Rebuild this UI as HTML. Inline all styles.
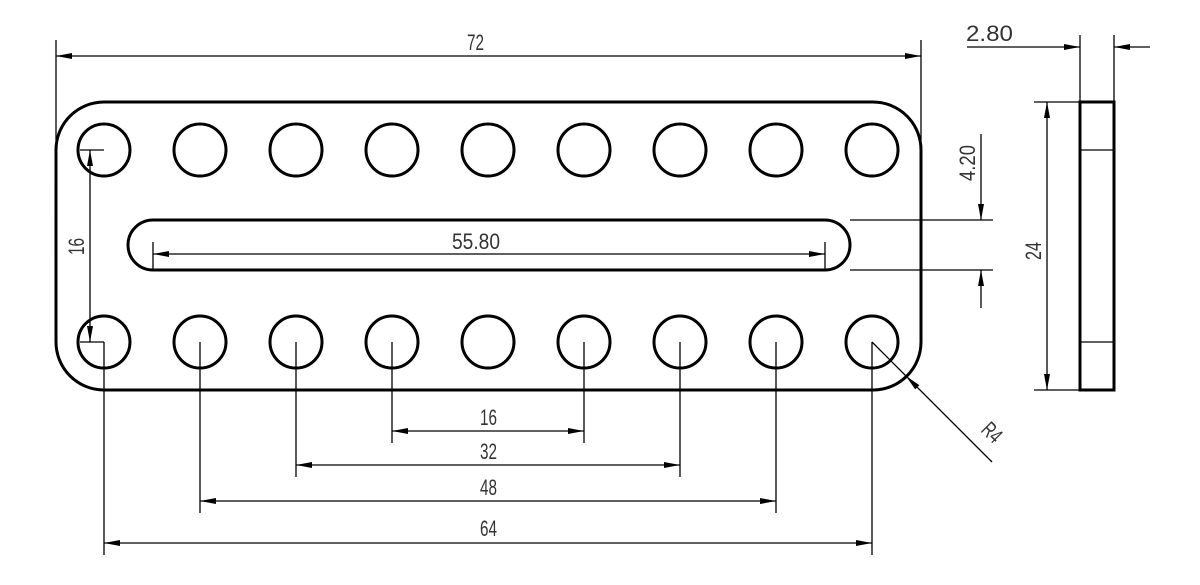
<!DOCTYPE html>
<html><head><meta charset="utf-8"><style>html,body{margin:0;padding:0;background:#fff}svg{display:block}text{font-family:"Liberation Sans",sans-serif;font-size:22px;fill:#333}</style></head>
<body>
<svg width="1200" height="585" viewBox="0 0 1200 585" xmlns="http://www.w3.org/2000/svg">
<defs>
<marker id="a" viewBox="0 0 16 6" refX="16" refY="3" markerWidth="16" markerHeight="6" markerUnits="userSpaceOnUse" orient="auto"><path d="M0,0L16,3L0,6z" fill="#000"/></marker>
<marker id="b" viewBox="0 0 16 6" refX="0" refY="3" markerWidth="16" markerHeight="6" markerUnits="userSpaceOnUse" orient="auto"><path d="M16,0L0,3L16,6z" fill="#000"/></marker>
</defs>
<g fill="none" stroke="#000" stroke-width="3">
<rect x="56" y="102" width="865" height="288" rx="48"/>
<g id="r">
<circle cx="104" cy="150" r="26"/><circle cx="200" cy="150" r="26"/><circle cx="296" cy="150" r="26"/><circle cx="392" cy="150" r="26"/><circle cx="488" cy="150" r="26"/><circle cx="584" cy="150" r="26"/><circle cx="680" cy="150" r="26"/><circle cx="776" cy="150" r="26"/><circle cx="872" cy="150" r="26"/>
</g>
<use href="#r" y="192"/>
<path d="M153,220H825A25,25 0 0 1 825,270H153A25,25 0 0 1 153,220Z"/>
<rect x="1080" y="102" width="34" height="288"/>
</g>
<g fill="none" stroke="#000" stroke-width="1.3">
<line x1="1080" y1="150" x2="1114" y2="150"/><line x1="1080" y1="342" x2="1114" y2="342"/>
<line x1="56" y1="40" x2="56" y2="140"/><line x1="921" y1="40" x2="921" y2="140"/>
<line x1="56" y1="56" x2="921" y2="56" marker-start="url(#b)" marker-end="url(#a)"/>
<line x1="80" y1="150" x2="104" y2="150"/><line x1="80" y1="342" x2="104" y2="342"/>
<line x1="90" y1="150" x2="90" y2="342" marker-start="url(#b)" marker-end="url(#a)"/>
<line x1="153" y1="242" x2="153" y2="270"/><line x1="825" y1="242" x2="825" y2="270"/>
<line x1="153" y1="254" x2="825" y2="254" marker-start="url(#b)" marker-end="url(#a)"/>
<line x1="850" y1="220" x2="993" y2="220"/><line x1="850" y1="270" x2="993" y2="270"/>
<line x1="981" y1="134" x2="981" y2="220" marker-end="url(#a)"/>
<line x1="981" y1="308" x2="981" y2="270" marker-end="url(#a)"/>
<line x1="1080" y1="35" x2="1080" y2="102"/><line x1="1114" y1="35" x2="1114" y2="102"/>
<line x1="967" y1="47" x2="1080" y2="47" marker-end="url(#a)"/>
<line x1="1150" y1="47" x2="1114" y2="47" marker-end="url(#a)"/>
<line x1="1034" y1="102" x2="1080" y2="102"/><line x1="1034" y1="390" x2="1080" y2="390"/>
<line x1="1047" y1="102" x2="1047" y2="390" marker-start="url(#b)" marker-end="url(#a)"/>
<line x1="104" y1="342" x2="104" y2="555"/><line x1="872" y1="342" x2="872" y2="555"/>
<line x1="200" y1="342" x2="200" y2="513"/><line x1="776" y1="342" x2="776" y2="513"/>
<line x1="296" y1="342" x2="296" y2="477"/><line x1="680" y1="342" x2="680" y2="477"/>
<line x1="392" y1="342" x2="392" y2="443"/><line x1="584" y1="342" x2="584" y2="443"/>
<line x1="392" y1="431" x2="584" y2="431" marker-start="url(#b)" marker-end="url(#a)"/>
<line x1="296" y1="465" x2="680" y2="465" marker-start="url(#b)" marker-end="url(#a)"/>
<line x1="200" y1="501" x2="776" y2="501" marker-start="url(#b)" marker-end="url(#a)"/>
<line x1="104" y1="543" x2="872" y2="543" marker-start="url(#b)" marker-end="url(#a)"/>
<line x1="992" y1="462" x2="906" y2="376" marker-end="url(#a)"/>
<line x1="872" y1="342" x2="906" y2="376"/>
</g>
<text x="467" y="50" textLength="17" lengthAdjust="spacingAndGlyphs">72</text>
<text x="966" y="41" textLength="47" lengthAdjust="spacingAndGlyphs">2.80</text>
<text x="452" y="249" textLength="48" lengthAdjust="spacingAndGlyphs">55.80</text>
<text x="480" y="425" textLength="17" lengthAdjust="spacingAndGlyphs">16</text>
<text x="480" y="459" textLength="17" lengthAdjust="spacingAndGlyphs">32</text>
<text x="480" y="495" textLength="17" lengthAdjust="spacingAndGlyphs">48</text>
<text x="480" y="536" textLength="17" lengthAdjust="spacingAndGlyphs">64</text>
<text transform="translate(84,255) rotate(-90)" textLength="17" lengthAdjust="spacingAndGlyphs">16</text>
<text transform="translate(975,181) rotate(-90)" textLength="36" lengthAdjust="spacingAndGlyphs">4.20</text>
<text transform="translate(1041,260) rotate(-90)" textLength="18" lengthAdjust="spacingAndGlyphs">24</text>
<text transform="translate(980,431) rotate(45)" textLength="19" lengthAdjust="spacingAndGlyphs">R4</text>
</svg>
</body></html>
